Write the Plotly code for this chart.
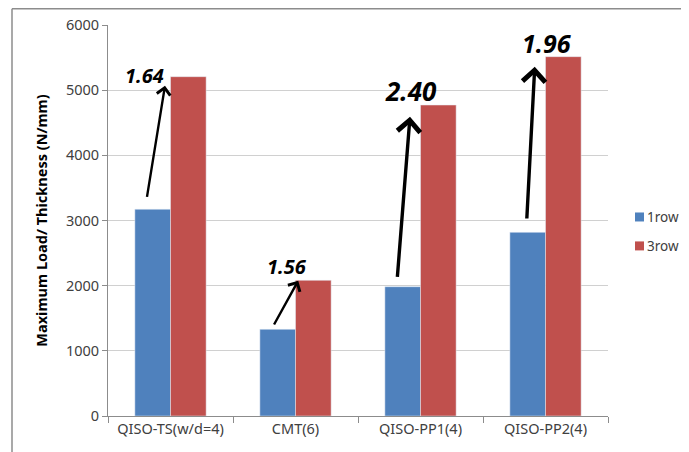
import plotly.graph_objects as go

categories = ["QISO-TS(w/d=4)", "CMT(6)", "QISO-PP1(4)", "QISO-PP2(4)"]
series_names = ["1row", "3row"]
row1 = [3172, 1330, 1984, 2818]
row3 = [5207, 2082, 4772, 5514]
ratio_labels = ["1.64", "1.56", "2.40", "1.96"]
colors = ["#4f81bd", "#c0504d"]

# arrow geometry (offsets in category units / data units relative to bars)
tail_dx = [-0.19, -0.178, -0.186, -0.15]
tail_lift = [168, 51, 129, 190]
head_dx = [-0.044, 0.022, -0.084, -0.086]
head_drop = [139, 6, 179, 154]
arrow_w = [2.4, 2.4, 3.4, 3.4]
arrow_size = [1.1, 1.1, 1.3, 1.3]
label_dx = [-0.205, -0.07, -0.075, 0.013]
label_y = [5225, 2300, 4990, 5720]
label_size = [20, 20, 26, 25]

fig = go.Figure()
for name, vals, col in zip(series_names, [row1, row3], colors):
    fig.add_trace(go.Bar(x=categories, y=vals, name=name, marker_color=col,
                         showlegend=False))

for i in range(len(categories)):
    fig.add_annotation(
        x=i + head_dx[i], y=row3[i] - head_drop[i],
        ax=i + tail_dx[i], ay=row1[i] + tail_lift[i],
        xref="x", yref="y", axref="x", ayref="y",
        text="", showarrow=True, arrowhead=4,
        arrowwidth=arrow_w[i], arrowsize=arrow_size[i], arrowcolor="black",
    )
    fig.add_annotation(
        x=i + label_dx[i], y=label_y[i], xref="x", yref="y",
        text="<b><i>" + ratio_labels[i] + "</i></b>", showarrow=False,
        font=dict(family="Noto Sans", size=label_size[i], color="black"),
    )

# legend (drawn as swatches + labels to match the compact spacing)
leg_y = [0.509, 0.435]
for name, col, yy in zip(series_names, colors, leg_y):
    fig.add_shape(type="rect", xref="paper", yref="paper",
                  x0=1.054, x1=1.072, y0=yy - 0.0115, y1=yy + 0.0115,
                  fillcolor=col, line=dict(width=0))
    fig.add_annotation(x=1.074, y=yy, xref="paper", yref="paper",
                       text=name, showarrow=False, xanchor="left", yanchor="middle",
                       font=dict(size=13.5, color="#404040"))

# outer frame (left and top edges visible)
fig.add_shape(type="line", xref="paper", yref="paper",
              x0=-0.192, x1=-0.192, y0=-0.2, y1=1.0416,
              line=dict(color="#8c8c8c", width=1.5))
fig.add_shape(type="line", xref="paper", yref="paper",
              x0=-0.192, x1=1.3, y0=1.0416, y1=1.0416,
              line=dict(color="#8c8c8c", width=1.5))

fig.update_layout(
    width=681, height=444,
    margin=dict(l=100, r=81, t=17, b=36, autoexpand=False),
    paper_bgcolor="white", plot_bgcolor="white",
    barmode="group", bargap=0.43, bargroupgap=0,
    font=dict(family="Noto Sans", size=14, color="#404040"),
    showlegend=False,
)
fig.update_xaxes(
    type="category", showline=True, linecolor="#8c8c8c", linewidth=1,
    ticks="outside", tickson="boundaries", ticklen=6, tickcolor="#8c8c8c",
    showgrid=False, tickfont=dict(size=14.5), automargin=False,
)
fig.update_yaxes(
    range=[0, 6000], dtick=1000, showline=True, linecolor="#8c8c8c", linewidth=1,
    ticks="outside", ticklen=5, tickcolor="#8c8c8c",
    showgrid=True, gridcolor="#d0d0d0", gridwidth=1, zeroline=False,
    tickfont=dict(size=14.5), automargin=False,
    title=dict(text="<b>Maximum Load/ Thickness (N/mm)</b>",
               font=dict(size=14.5, color="black"), standoff=14),
)

fig.write_html("out.html")
